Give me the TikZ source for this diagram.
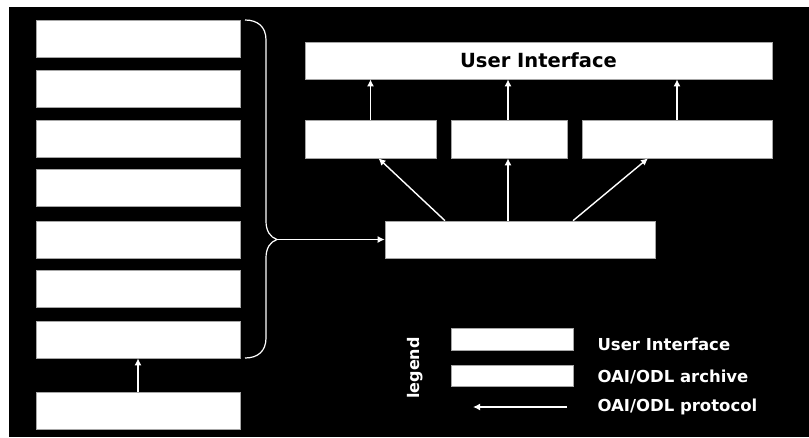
\documentclass[tikz,border=0pt]{standalone}
\usepackage{fontspec}
\setmainfont{DejaVu Sans}
\usepackage{tikz}
\usetikzlibrary{arrows.meta}
\usetikzlibrary{positioning}

\begin{document}
\begin{tikzpicture}[x=1pt,y=-1pt,
    box/.style={rectangle, draw=gray!70, fill=white, line width=0.6pt, inner sep=0pt, minimum width=204pt, minimum height=37pt},
    arr/.style={draw=white, line width=1.4pt, -{Latex[length=7pt,width=7pt]}},
    lbl/.style={text=white, font=\bfseries\fontsize{16.5}{18}\selectfont, anchor=west}]
    % Background
    \useasboundingbox (0,0) rectangle (809,437);
    \fill[white] (0,0) rectangle (809,437);
    \fill[black] (9,7) rectangle (809,437);

    % Left column of archives
    \node[box] (s1) at (138,38.5) {};
    \node[box] (s2) at (138,88.5) {};
    \node[box] (s3) at (138,139) {};
    \node[box] (s4) at (138,188) {};
    \node[box] (s5) at (138,240) {};
    \node[box] (s6) at (138,288.5) {};
    \node[box] (s7) at (138,339.5) {};
    \node[box] (s8) at (138,411) {};
    \draw[arr] (s8) -- (s7); % upward link

    % Brace around the column
    \coordinate (bt) at (277,239.5);
    \draw[white, line width=1.2pt] (245,20) .. controls (258,20) and (266,27) .. (266,40) -- (266,221)
        .. controls (266,231) and (270,237) .. (bt) .. controls (270,242) and (266,248) .. (266,258)
        -- (266,338) .. controls (266,351) and (258,358) .. (245,358);

    % Right side
    \node[box, minimum width=467pt] (ui) at (538.5,60.5) {\bfseries\fontsize{19.5}{21}\selectfont User Interface};
    \node[box, minimum width=131pt, minimum height=38pt] (ma) at (370.5,139) {};
    \node[box, minimum width=116pt, minimum height=38pt] (mb) at (509,139) {};
    \node[box, minimum width=190pt, minimum height=38pt] (mc) at (677,139) {};
    \node[box, minimum width=270pt] (core) at (520,239.5) {};

    % Links
    \draw[arr] (bt) -- (core.west);
    \draw[arr] (ma) -- (ma |- ui.south);
    \draw[arr] ([xshift=-1pt]mb.north) -- ([xshift=-1pt]mb.north |- ui.south);
    \draw[arr] (mc) -- (mc |- ui.south);
    \draw[arr] ([xshift=-75pt]core.north) -- ([xshift=8pt]ma.south);
    \draw[arr] ([xshift=-12pt]core.north) -- ([xshift=-1pt]mb.south);
    \draw[arr] ([xshift=53pt]core.north) -- ([xshift=-29pt]mc.south);

    % Legend
    \node[text=white, rotate=90, font=\bfseries\fontsize{16}{18}\selectfont] (lg) at (415,368) {legend};
    \node[box, minimum width=122pt, minimum height=22pt] (l1) at (512,339) {};
    \node[box, minimum width=122pt, minimum height=21pt] (l2) at (512,375.5) {};
    \coordinate (la) at (567,407);
    \coordinate (lb) at (473,407);
    \draw[arr] (la) -- (lb);
    \node[lbl] (t1) at (594,344) {User Interface};
    \node[lbl] (t2) at (594,377) {OAI/ODL archive};
    \node[lbl] (t3) at (594,407) {OAI/ODL protocol};
\end{tikzpicture}
\end{document}
